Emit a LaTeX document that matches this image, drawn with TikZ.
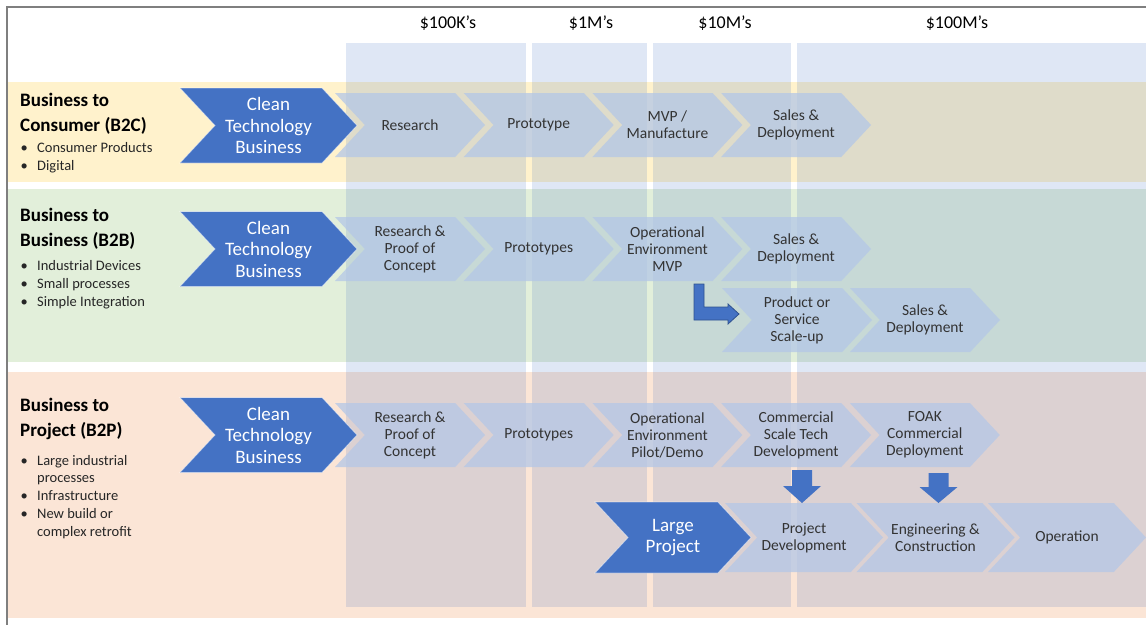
\documentclass[tikz,border=0pt]{standalone}
\usepackage{fontspec}
\setmainfont{Carlito}
\usepackage{tikz}
\usetikzlibrary{shapes.symbols}
\definecolor{bandyellow}{HTML}{FFF2CC}
\definecolor{bandgreen}{HTML}{E2EFDA}
\definecolor{bandpink}{HTML}{FBE5D6}
\definecolor{accent}{HTML}{4472C4}
\definecolor{accentdark}{HTML}{2F528F}
\definecolor{stagefill}{HTML}{B4C7E7}
\definecolor{stagetext}{HTML}{333333}
\definecolor{frame}{HTML}{7F7F7F}
\tikzstyle{stage}=[signal, signal from=west, signal to=east, signal pointer angle=94,
minimum width=150pt, minimum height=64pt, inner sep=0pt, fill=stagefill,
fill opacity=0.75, text opacity=1, text=stagetext, align=center,
font=\fontsize{15.5}{17}\selectfont]
\tikzstyle{bigstage}=[stage, minimum width=158pt, minimum height=69pt]
\tikzstyle{venture}=[signal, signal from=west, signal to=east, signal pointer angle=94,
minimum width=177pt, minimum height=75pt, inner sep=0pt, fill=accent,
draw=white, draw opacity=0.5, line width=0.8pt, text=white, align=center,
font=\fontsize{19}{21.5}\selectfont]
% multi-line labels sit on the baseline of their last line
\tikzstyle{sector}=[anchor=base west, inner sep=0pt, align=left,
font=\bfseries\fontsize{19}{25}\selectfont]
\tikzstyle{items}=[anchor=base west, inner sep=0pt, align=left, text=black!85,
font=\fontsize{14.5}{17.7}\selectfont]
\tikzstyle{cost}=[inner sep=0pt, font=\fontsize{18}{20}\selectfont]
\tikzstyle{blockarrow}=[fill=accent]
\newcommand{\bul}{\makebox[16.5pt][l]{\textbullet}}
\newcommand{\itemcont}{\hspace*{16.5pt}}

\begin{document}
\begin{tikzpicture}[x=1pt,y=-1pt]
  \useasboundingbox (0,0) rectangle (1146,624);
  \clip (0,0) rectangle (1146,624);
  \fill[white] (0,0) rectangle (1146,624);
  % Business model bands
  \fill[bandyellow] (8,82) rectangle (1146,182);
  \fill[bandgreen] (8,189) rectangle (1146,362);
  \fill[bandpink] (8,372) rectangle (1146,618);
  \draw[frame, line width=1.5pt] (7,640) -- (7,7) -- (1160,7);
  % Investment size columns
  \foreach \l/\r in {346/526,532/647,653/791,797/1146}
    \fill[accent, fill opacity=0.17] (\l,43) rectangle (\r,607);
  \node[cost] (k100) at (448,23) {\$100K’s};
  \node[cost] (m1)   at (591,23) {\$1M’s};
  \node[cost] (m10)  at (725,23) {\$10M’s};
  \node[cost] (m100) at (957,23) {\$100M’s};

  % First band: business to consumer
  \node[sector] (b2c) at (20,131) {Business to\\Consumer (B2C)};
  \node[items] (b2c-list) at (20.5,170) {\bul Consumer Products\\\bul Digital};
  \foreach \txt [count=\i] in {Research,Prototype,{MVP /\\Manufacture},{Sales \&\\Deployment}}
    \node[stage] (b2c-\i) at ({410+128.7*(\i-1)},125) {\txt};
  \node[venture] (b2c-ctb) at (268.5,125.5) {Clean\\Technology\\Business};

  % Second band: business to business
  \node[sector] (b2b) at (20,246) {Business to\\Business (B2B)};
  \node[items] (b2b-list) at (20.5,306) {\bul Industrial Devices\\\bul Small processes\\\bul Simple Integration};
  \foreach \txt [count=\i] in {{Research \&\\Proof of\\Concept},Prototypes,{Operational\\Environment\\MVP},{Sales \&\\Deployment}}
    \node[stage] (b2b-\i) at ({410+128.7*(\i-1)},249) {\txt};
  \node[stage] (b2b-scale) at (797,320) {Product or\\Service\\Scale-up};
  \node[stage] (b2b-sales) at (925,320) {Sales \&\\Deployment};
  \node[venture] (b2b-ctb) at (268.5,249) {Clean\\Technology\\Business};
  % Branch off towards scale-up
  \coordinate (branch) at (694,284);
  \filldraw[blockarrow, draw=accentdark, line width=0.8pt] (branch) -- ++(10,0) -- ++(0,23)
    -- ++(24,0) -- ++(0,-3) -- ++(11,10) -- ++(-11,10) -- ++(0,-4) -- ++(-34,0) -- cycle;

  % Third band: business to project
  \node[sector] (b2p) at (20,436) {Business to\\Project (B2P)};
  \node[items] (b2p-list) at (20.5,536) {\bul Large industrial\\\itemcont processes\\\bul Infrastructure\\\bul New build or\\\itemcont complex retrofit};
  \foreach \txt [count=\i] in {{Research \&\\Proof of\\Concept},Prototypes,{Operational\\Environment\\Pilot/Demo},{Commercial\\Scale Tech\\Development},{FOAK\\Commercial\\Deployment}}
    \node[stage] (b2p-\i) at ({410+128.7*(\i-1)},435) {\txt};
  \node[venture] (b2p-ctb) at (268.5,435) {Clean\\Technology\\Business};
  % Large project track
  \node[bigstage] (lp-dev) at (804,537.5) {Project\\Development};
  \node[bigstage] (lp-eng) at (935.5,537.5) {Engineering \&\\Construction};
  \node[bigstage] (lp-op)  at (1067,537.5) {Operation};
  \node[venture, minimum width=156pt, minimum height=71pt] (lp) at (673,537.5) {Large\\Project};
  \coordinate (drop1) at (792,470);
  \coordinate (drop2) at (928.5,473);
  \fill[blockarrow] (drop1) -- ++(20,0) -- ++(0,16) -- ++(9,0) -- ++(-19,17) -- ++(-19,-17) -- ++(9,0) -- cycle;
  \fill[blockarrow] (drop2) -- ++(20,0) -- ++(0,14) -- ++(9,0) -- ++(-19,16) -- ++(-19,-16) -- ++(9,0) -- cycle;
\end{tikzpicture}
\end{document}
